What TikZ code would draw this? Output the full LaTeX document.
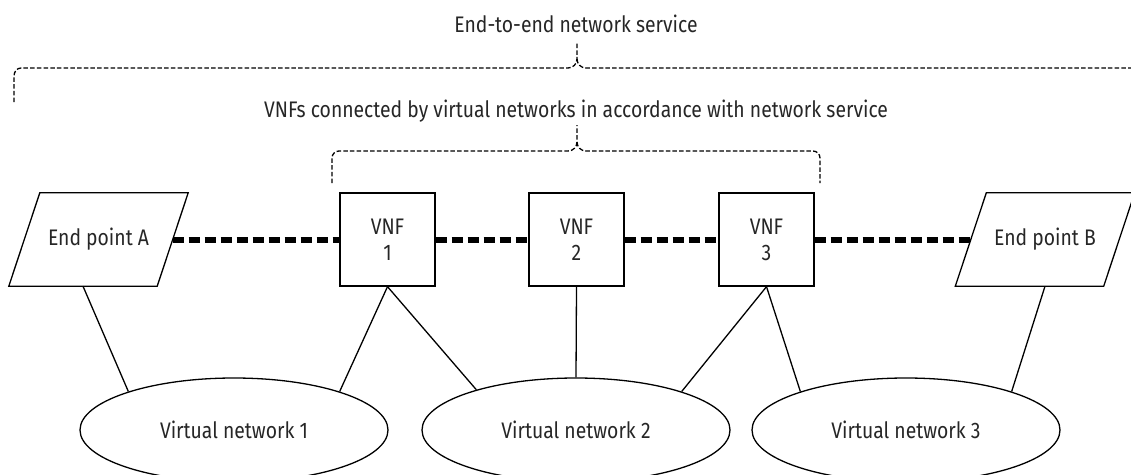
\documentclass[tikz,border=0pt]{standalone}
\usepackage{fontspec}
\setmainfont{Fira Sans}[FakeStretch=0.86]
\usetikzlibrary{shapes.geometric}

\begin{document}
\begin{tikzpicture}[x=1pt,y=-1pt,
  every node/.style={font=\fontsize{22.5}{26}\selectfont, text=black!85},
  vnfbox/.style={draw, line width=1.3pt, minimum width=95pt, minimum height=93pt, align=center, inner sep=0pt},
  endpt/.style={minimum width=148pt, minimum height=93pt, inner sep=0pt},
  vnet/.style={draw, ellipse, line width=1.3pt, minimum width=308pt, minimum height=104pt, inner sep=0pt},
  link/.style={line width=1.3pt},
  chain/.style={line width=6pt, dash pattern=on 11pt off 5pt},
  bracket/.style={line width=1.3pt, dash pattern=on 4.5pt off 2.2pt},
]
\useasboundingbox (0,0) rectangle (1131,474);

% labels of the two groupings
\node[anchor=base] (e2e) at (576,32) {End-to-end network service};
\node[anchor=base] (vnfs) at (576,117) {VNFs connected by virtual networks in accordance with network service};

% outer bracket (runs off the right edge)
\draw[bracket] (14,102) -- (14,76) to[out=90,in=180] (21,68) -- (568,68)
  to[out=0,in=-90] (577,59) -- (577,43);
\draw[bracket] (577,59) to[out=-90,in=180] (586,68) -- (1140,68);

% inner bracket over the VNFs
\draw[bracket] (332,183) -- (332,158) to[out=90,in=180] (339,151) -- (568,151)
  to[out=0,in=-90] (577,142) -- (577,125);
\draw[bracket] (577,142) to[out=-90,in=180] (586,151) -- (813,151)
  to[out=0,in=90] (820,158) -- (820,183);

% end points (parallelograms)
\node[endpt] (A) at (98.5,239.5) {End point A};
\node[endpt] (B) at (1045,239.5) {End point B};
\foreach \n in {A,B}{
  \draw[link] ([xshift=-15.5pt]\n.south west) -- ([xshift=-15.5pt]\n.south east)
    -- ([xshift=15.5pt]\n.north east) -- ([xshift=15.5pt]\n.north west) -- cycle;
}

% virtual network functions
\node[vnfbox] (F1) at (387.5,239.5) {VNF\\1};
\node[vnfbox] (F2) at (576.5,239.5) {VNF\\2};
\node[vnfbox] (F3) at (766.5,239.5) {VNF\\3};

% virtual networks
\node[vnet] (N1) at (234,430) {Virtual network 1};
\node[vnet] (N2) at (576,430) {Virtual network 2};
\node[vnet] (N3) at (906,430) {Virtual network 3};

% service chain
\draw[chain] (A.east) -- (F1.west);
\draw[chain] (F1.east) -- (F2.west);
\draw[chain] (F2.east) -- (F3.west);
\draw[chain] (F3.east) -- (B.west);

% attachments to the virtual networks
\draw[link] ([xshift=-15.5pt]A.south) -- (N1.160);
\draw[link] (F1.south) -- (N1.20);
\draw[link] (F1.south) -- (N2.158);
\draw[link] (F2.south) -- (N2.north);
\draw[link] (F3.south) -- (N2.20);
\draw[link] (F3.south) -- (N3.160);
\draw[link] (B.south) -- (N3.20);
\end{tikzpicture}
\end{document}
